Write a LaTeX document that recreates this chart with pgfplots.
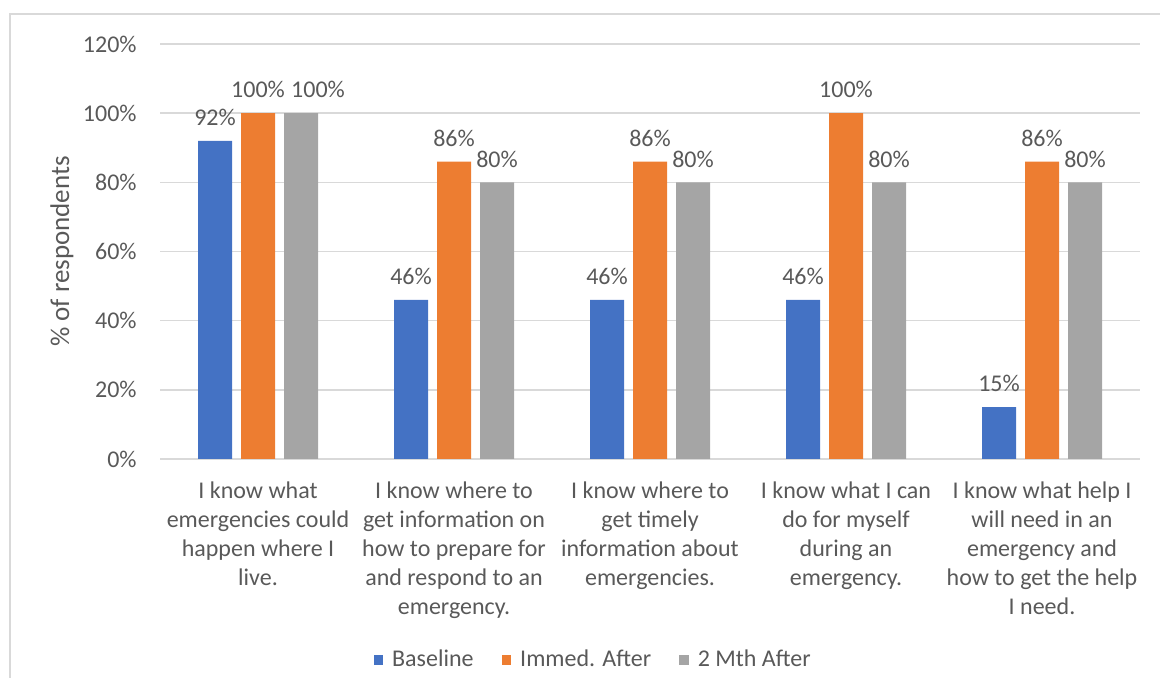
\documentclass[border=0pt]{standalone}
\usepackage{fontspec}
\setmainfont{Carlito}
\usepackage{pgfplots}
\pgfplotsset{compat=1.18}
\definecolor{cBase}{HTML}{4472C4}
\definecolor{cImm}{HTML}{ED7D31}
\definecolor{cMth}{HTML}{A5A5A5}
\definecolor{cTxt}{HTML}{595959}
\definecolor{cGrid}{HTML}{D9D9D9}
\begin{document}
\begin{tikzpicture}[x=1pt,y=1pt]
\path[use as bounding box] (0,0) rectangle (580,339);
\draw[cGrid, line width=0.8pt] (5,0) -- (5,332) -- (580,332);
\begin{axis}[
  at={(80pt,109.5pt)}, anchor=south west,
  scale only axis, width=490pt, height=207.5pt,
  font=\fontsize{12}{14.5}\selectfont,
  ybar=4.5pt, bar width=17pt,
  xmin=-0.5, xmax=4.5, ymin=0, ymax=120,
  xtick={0,1,2,3,4},
  xticklabels={
    {I know what\\emergencies could\\happen where I\\live.},
    {I know where to\\get information on\\how to prepare for\\and respond to an\\emergency.},
    {I know where to\\get timely\\information about\\emergencies.},
    {I know what I can\\do for myself\\during an\\emergency.},
    {I know what help I\\will need in an\\emergency and\\how to get the help\\I need.}},
  xticklabel style={align=center, anchor=north, inner sep=0pt, yshift=-11pt, text=cTxt},
  ytick={0,20,...,120},
  yticklabel={\pgfmathprintnumber{\tick}\%},
  yticklabel style={inner sep=0pt, xshift=-11.5pt, text=cTxt},
  /pgf/number format/assume math mode=true,
  major tick length=0pt,
  ymajorgrids, grid style={cGrid, line width=0.8pt},
  axis x line*=bottom, axis y line*=left,
  x axis line style={cGrid, line width=0.8pt, -},
  y axis line style={draw=none},
  ylabel={\% of respondents},
  every axis y label/.style={at={(axis description cs:-0.1,0.5)}, rotate=90, anchor=center, text=cTxt, font=\fontsize{13.5}{16}\selectfont},
  nodes near coords={\pgfmathprintnumber[fixed,precision=0]{\pgfplotspointmeta}\%},
  every node near coord/.append style={text=cTxt, font=\fontsize{12}{14.5}\selectfont, yshift=4pt},
  legend columns=3,
  legend style={draw=none, at={(0.443,-0.484)}, anchor=center, text=cTxt, font=\fontsize{12}{14.5}\selectfont,
    /tikz/every odd column/.append style={column sep=2.5pt},
    /tikz/every even column/.append style={column sep=12pt}},
  legend image code/.code={\fill[#1] (0pt,-2.4pt) rectangle (4.8pt,2.4pt);},
  clip=false,
]
\addplot[fill=cBase, draw=none] coordinates {(0,92) (1,46) (2,46) (3,46) (4,15)};
\addplot[fill=cImm, draw=none] coordinates {(0,100) (1,86) (2,86) (3,100) (4,86)};
\addplot[fill=cMth, draw=none, visualization depends on={x \as \xv},
  every node near coord/.append style={xshift={(\xv<0.5)*8.5}}] coordinates {(0,100) (1,80) (2,80) (3,80) (4,80)};
\legend{Baseline, Immed. After, 2 Mth After}
\end{axis}
\end{tikzpicture}
\end{document}
